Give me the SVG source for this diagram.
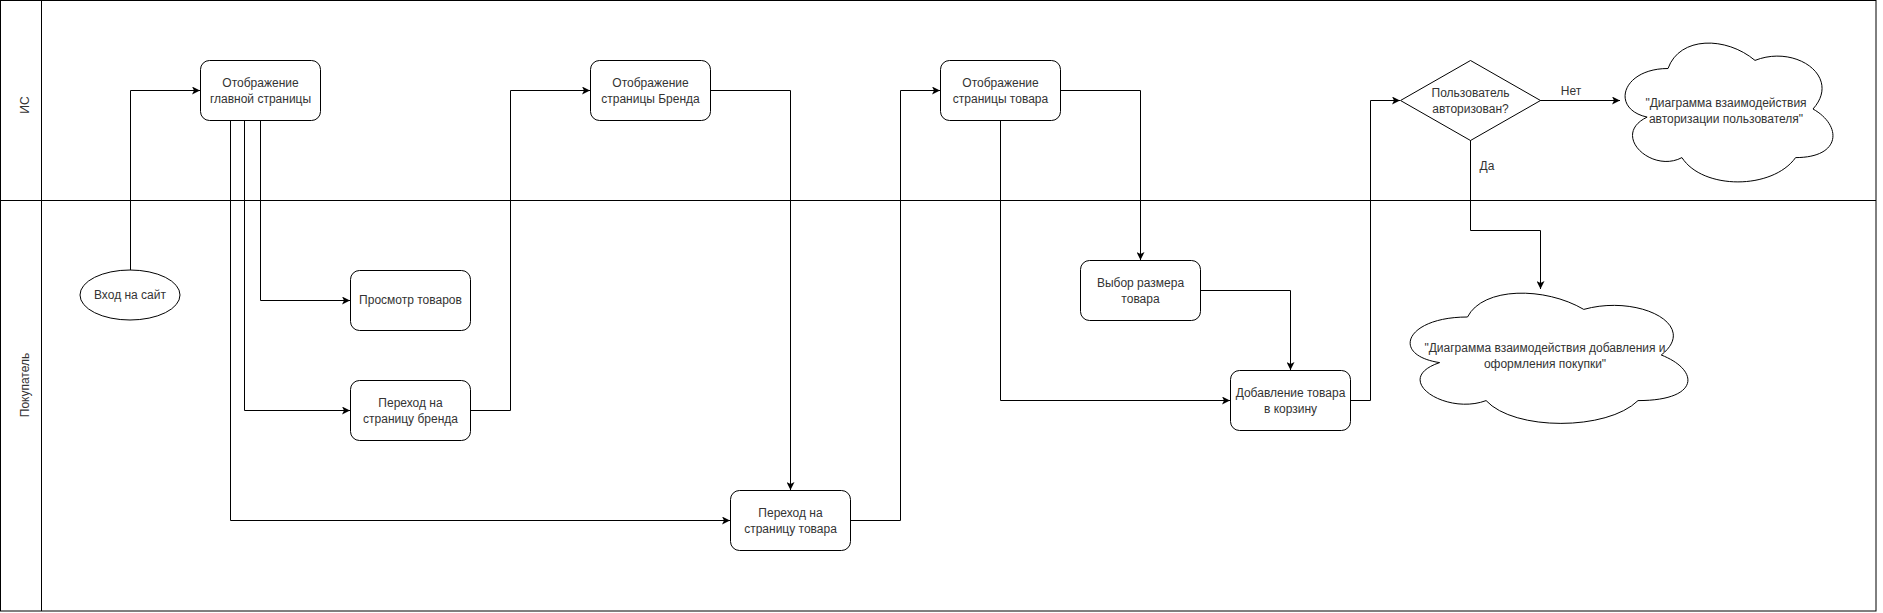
<svg xmlns="http://www.w3.org/2000/svg" width="1883" height="613" viewBox="0 0 1883 613">
<defs>
<style>
.ln{fill:none;stroke:#000;stroke-width:1}
.nd{fill:#fff;stroke:#000;stroke-width:1}
.t{font-family:"Liberation Sans",Arial,sans-serif;font-size:12px;fill:#333;text-anchor:middle}
.c{fill:none;stroke:#000;stroke-width:1;marker-end:url(#arr)}
</style>
<marker id="arr" viewBox="0 0 8 8" refX="8" refY="4" markerWidth="8" markerHeight="8" markerUnits="userSpaceOnUse" orient="auto">
<path d="M0,0 L8,4 L0,8 L2,4 Z" fill="#000"/>
</marker>
</defs>
<rect width="1883" height="613" fill="#fff"/>
<g id="pool">
<rect x="0.5" y="0.5" width="1875.5" height="610.5" class="ln"/>
<line x1="41.5" y1="0.5" x2="41.5" y2="611" class="ln"/>
<line x1="0.5" y1="200.5" x2="1876" y2="200.5" class="ln"/>
<text class="t" transform="translate(25,105) rotate(-90)" dominant-baseline="central">ИС</text>
<text class="t" transform="translate(25,385) rotate(-90)" dominant-baseline="central">Покупатель</text>
</g>
<g id="connectors">
<path class="c" d="M130.5,270 L130.5,90.5 L200,90.5"/>
<path class="c" d="M260.5,120 L260.5,300.5 L350,300.5"/>
<path class="c" d="M244.5,120 L244.5,410.5 L350,410.5"/>
<path class="c" d="M230.5,120 L230.5,520.5 L730,520.5"/>
<path class="c" d="M470,410.5 L510.5,410.5 L510.5,90.5 L590,90.5"/>
<path class="c" d="M710,90.5 L790.5,90.5 L790.5,490"/>
<path class="c" d="M850,520.5 L900.5,520.5 L900.5,90.5 L940,90.5"/>
<path class="c" d="M1060,90.5 L1140.5,90.5 L1140.5,260"/>
<path class="c" d="M1000.5,120 L1000.5,400.5 L1230,400.5"/>
<path class="c" d="M1200,290.5 L1290.5,290.5 L1290.5,370"/>
<path class="c" d="M1350,400.5 L1370.5,400.5 L1370.5,100.5 L1400,100.5"/>
<path class="c" d="M1540,100.5 L1620,100.5"/>
<path class="c" d="M1470.5,140 L1470.5,230.5 L1540.5,230.5 L1540.5,289"/>
<text class="t" x="1571" y="95">Нет</text>
<text class="t" x="1487" y="170">Да</text>
</g>
<g id="start">
<ellipse cx="130" cy="295" rx="50" ry="25" class="nd"/>
<text class="t" x="130" y="299">Вход на сайт</text>
</g>
<g id="mainPage">
<rect x="200.5" y="60.5" width="120" height="60" rx="9" class="nd"/>
<text class="t" x="260.5" y="87">Отображение</text>
<text class="t" x="260.5" y="102.5">главной страницы</text>
</g>
<g id="browse">
<rect x="350.5" y="270.5" width="120" height="60" rx="9" class="nd"/>
<text class="t" x="410.5" y="304">Просмотр товаров</text>
</g>
<g id="gotoBrand">
<rect x="350.5" y="380.5" width="120" height="60" rx="9" class="nd"/>
<text class="t" x="410.5" y="407">Переход на</text>
<text class="t" x="410.5" y="422.5">страницу бренда</text>
</g>
<g id="brandPage">
<rect x="590.5" y="60.5" width="120" height="60" rx="9" class="nd"/>
<text class="t" x="650.5" y="87">Отображение</text>
<text class="t" x="650.5" y="102.5">страницы Бренда</text>
</g>
<g id="gotoProduct">
<rect x="730.5" y="490.5" width="120" height="60" rx="9" class="nd"/>
<text class="t" x="790.5" y="517">Переход на</text>
<text class="t" x="790.5" y="532.5">страницу товара</text>
</g>
<g id="productPage">
<rect x="940.5" y="60.5" width="120" height="60" rx="9" class="nd"/>
<text class="t" x="1000.5" y="87">Отображение</text>
<text class="t" x="1000.5" y="102.5">страницы товара</text>
</g>
<g id="size">
<rect x="1080.5" y="260.5" width="120" height="60" rx="9" class="nd"/>
<text class="t" x="1140.5" y="287">Выбор размера</text>
<text class="t" x="1140.5" y="302.5">товара</text>
</g>
<g id="addCart">
<rect x="1230.5" y="370.5" width="120" height="60" rx="9" class="nd"/>
<text class="t" x="1290.5" y="397">Добавление товара</text>
<text class="t" x="1290.5" y="412.5">в корзину</text>
</g>
<g id="decision">
<path d="M1470.5,60.5 L1540.5,100.5 L1470.5,140.5 L1400.5,100.5 Z" class="nd"/>
<text class="t" x="1470.5" y="97">Пользователь</text>
<text class="t" x="1470.5" y="112.5">авторизован?</text>
</g>
<g id="cloudAuth" transform="translate(1610,28) scale(232,162)">
<path d="M0.25,0.25 C0.05,0.25 0,0.5 0.16,0.55 C0,0.66 0.18,0.9 0.31,0.8 C0.4,1 0.7,1 0.8,0.8 C1,0.8 1,0.6 0.875,0.5 C1,0.3 0.8,0.1 0.625,0.2 C0.5,0.05 0.3,0.05 0.25,0.25 Z" fill="#fff" stroke="#000" stroke-width="1" vector-effect="non-scaling-stroke"/>
</g>
<g id="cloudAuthText">
<text class="t" x="1726" y="107">"Диаграмма взаимодействия</text>
<text class="t" x="1726" y="122.5">авторизации пользователя"</text>
</g>
<g id="cloudBuy" transform="translate(1390,279) scale(310,152)">
<path d="M0.25,0.25 C0.05,0.25 0,0.5 0.16,0.55 C0,0.66 0.18,0.9 0.31,0.8 C0.4,1 0.7,1 0.8,0.8 C1,0.8 1,0.6 0.875,0.5 C1,0.3 0.8,0.1 0.625,0.2 C0.5,0.05 0.3,0.05 0.25,0.25 Z" fill="#fff" stroke="#000" stroke-width="1" vector-effect="non-scaling-stroke"/>
</g>
<g id="cloudBuyText">
<text class="t" x="1545" y="352">"Диаграмма взаимодействия добавления и</text>
<text class="t" x="1545" y="367.5">оформления покупки"</text>
</g>
</svg>
